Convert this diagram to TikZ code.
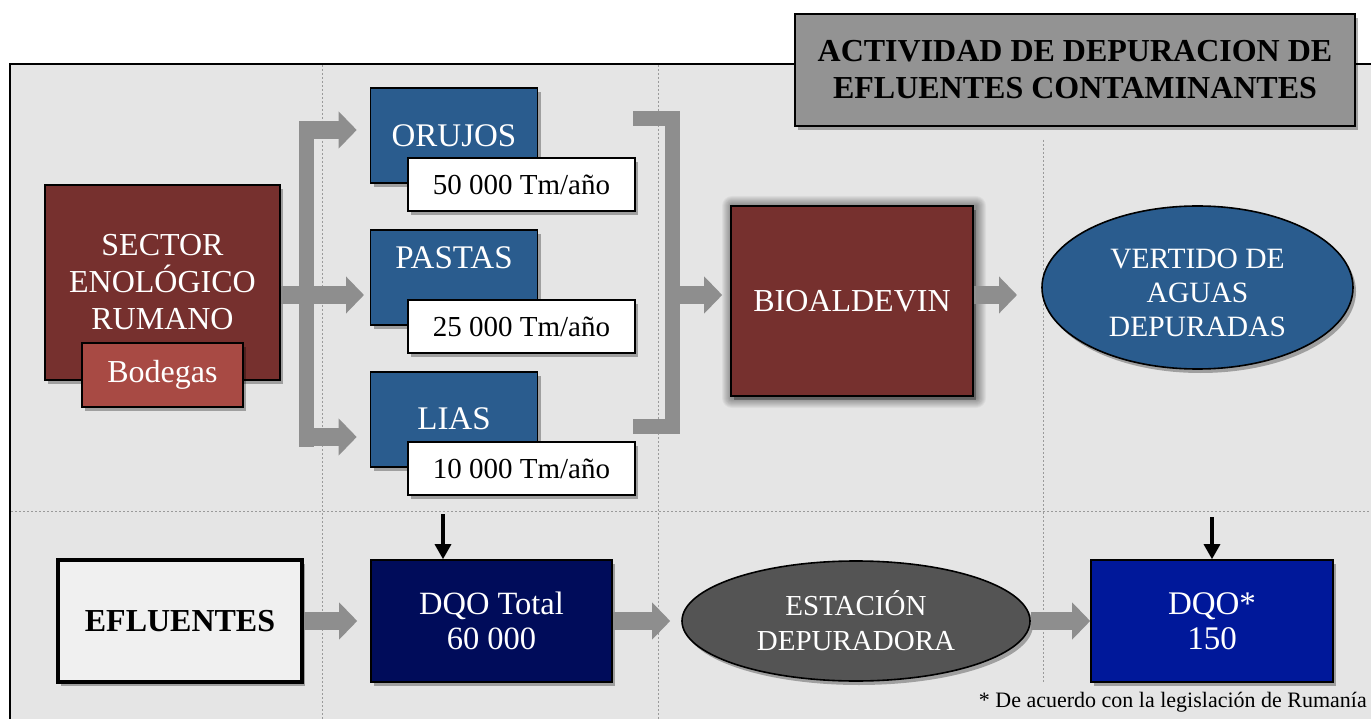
\documentclass[tikz,border=0pt]{standalone}
\usepackage{fontspec}
\setmainfont{Liberation Serif}
\usetikzlibrary{arrows.meta,shapes.geometric,shadows,calc}
\definecolor{bgc}{HTML}{E5E5E5}
\definecolor{darkred}{HTML}{76302E}
\definecolor{bodred}{HTML}{A84A44}
\definecolor{midblue}{HTML}{2A5C8E}
\definecolor{arrowgray}{HTML}{8E8E8E}
\definecolor{navyc}{HTML}{000C5A}
\definecolor{dqoblue}{HTML}{00189A}
\definecolor{estgray}{HTML}{545454}
\definecolor{titlegray}{HTML}{939393}
\definecolor{dashgray}{HTML}{9A9A9A}
\begin{document}
\begin{tikzpicture}[x=1pt,y=-1pt,
  shd/.style={drop shadow={shadow xshift=3pt,shadow yshift=-4pt,opacity=0.3,fill=black}},
  base/.style={draw=black,line width=1.6pt,inner sep=0pt,align=center,
    font=\fontsize{32}{37}\selectfont,shd},
  redbox/.style={base,fill=darkred,text=white},
  bodbox/.style={base,fill=bodred,text=white},
  bluebox/.style={base,fill=midblue},
  valbox/.style={base,fill=white,text=black,font=\fontsize{29}{35}\selectfont},
  boxtext/.style={text=white,font=\fontsize{33}{37}\selectfont,inner sep=0pt},
  garrow/.style={draw=arrowgray,line width=18pt,-{Triangle[length=18pt,width=36pt]}},
  gbar/.style={draw=arrowgray,line width=15pt,miter limit=10},
  karrow/.style={draw=black,line width=3.2pt,-{Triangle[length=15pt,width=16pt]}},
  dline/.style={draw=dashgray,line width=0.9pt,dash pattern=on 2pt off 2pt}]
\useasboundingbox (0,0) rectangle (1371,719);
\clip (0,0) rectangle (1371,719);
\fill[white] (0,0) rectangle (1371,719);
% frame
\draw[fill=bgc,line width=2pt] (10,64) rectangle (1400,760);
% dashed guide lines
\draw[dline] (322,65) -- (322,719);
\draw[dline] (658,65) -- (658,719);
\draw[dline] (1043,140) -- (1043,683);
\draw[dline] (11,511) -- (1371,511);
% title
\node[base,fill=titlegray,text=black,minimum width=560,minimum height=112,
  font=\fontsize{32}{37}\selectfont\bfseries] (title) at (1075,70)
  {ACTIVIDAD DE DEPURACION DE\\EFLUENTES CONTAMINANTES};
% sector
\node[redbox,minimum width=235,minimum height=195] (sector) at (162.5,282.5)
  {SECTOR\\ENOLÓGICO\\RUMANO};
\node[bodbox,minimum width=161,minimum height=64] (bodegas) at (162.5,375) {Bodegas};
% products
\node[bluebox,minimum width=167,minimum height=95] (orujos) at (454,135.5) {};
\node[boxtext] (orujosT) at (454,136) {ORUJOS};
\node[valbox,minimum width=227,minimum height=53] (orujosV) at (521.5,184.5) {50 000 Tm/año};
\node[bluebox,minimum width=167,minimum height=95] (pastas) at (454,277.5) {};
\node[boxtext] (pastasT) at (454,258) {PASTAS};
\node[valbox,minimum width=227,minimum height=53] (pastasV) at (521.5,326.5) {25 000 Tm/año};
\node[bluebox,minimum width=167,minimum height=95] (lias) at (454,419.5) {};
\node[boxtext] (liasT) at (454,419) {LIAS};
\node[valbox,minimum width=227,minimum height=53] (liasV) at (521.5,468.5) {10 000 Tm/año};
% bioaldevin glow
\foreach \d in {1,2,...,10}
  \fill[black,opacity=0.045,rounded corners=\d pt] (731-\d+1,206-\d) rectangle (973+\d+3,396+\d+2);
\node[redbox,minimum width=242,minimum height=190,drop shadow={opacity=0}] (bio) at (852,301) {BIOALDEVIN};
% vertido
\node[base,ellipse,fill=midblue,minimum width=311,minimum height=163] (vert) at (1197.5,287.5) {};
\node[text=white,align=center,inner sep=0pt,font=\fontsize{29.5}{34}\selectfont] (vertT) at (1197.5,293)
  {VERTIDO DE\\AGUAS\\DEPURADAS};
% bottom row
\node[base,fill=white!94!black,line width=4pt,minimum width=244,minimum height=122,
  font=\fontsize{32}{37}\selectfont\bfseries] (efl) at (180,621) {EFLUENTES};
\node[base,fill=navyc,text=white,minimum width=241,minimum height=122,
  font=\fontsize{32.5}{35}\selectfont] (dqot) at (491.5,621) {DQO Total\\60 000};
\node[base,ellipse,fill=estgray,text=white,minimum width=348,minimum height=120,
  font=\fontsize{29}{35}\selectfont] (est) at (856,621) {ESTACIÓN\\DEPURADORA};
\node[base,fill=dqoblue,text=white,minimum width=242,minimum height=122,
  font=\fontsize{33}{35}\selectfont] (dqos) at (1212,621) {DQO*\\150};
\node[anchor=base east,inner sep=0pt,font=\fontsize{22}{26}\selectfont] (note) at (1367,707)
  {* De acuerdo con la legislación de Rumanía};
% left fork
\coordinate (forkTop) at (306.5,121);
\coordinate (forkBot) at (306.5,447);
\draw[gbar] (forkTop) -- (forkBot);
\coordinate (aS) at (299,130);
\coordinate (aT) at ($(orujos.west |- aS)+(-13,0)$);
\draw[garrow] (aS) -- (aT);
\coordinate (bS) at ($(sector.east)+(0,12.5)$);
\coordinate (bT) at (364,295);
\draw[garrow] (bS) -- (bT);
\coordinate (cS) at (299,437);
\coordinate (cT) at ($(lias.west |- cS)+(-13,0)$);
\draw[garrow] (cS) -- (cT);
% right bracket
\coordinate (r1) at (633,118.5);
\coordinate (r2) at (672.5,118.5);
\coordinate (r3) at (672.5,426);
\coordinate (r4) at (633,426);
\draw[gbar] (r1) -- (r2) -- (r3) -- (r4);
\coordinate (dS) at (672.5,295);
\coordinate (dT) at ($(bio.west |- dS)+(-8,0)$);
\draw[garrow] (dS) -- (dT);
\coordinate (eS) at (bio.east |- dS);
\coordinate (eT) at (1017,295);
\draw[garrow] (eS) -- (eT);
% bottom arrows
\draw[garrow] (efl.east) -- ($(dqot.west)+(-13,0)$);
\draw[garrow] (dqot.east) -- ($(est.west)+(-11,0)$);
\draw[garrow] (est.east) -- (dqos.west);
\coordinate (k1) at (443,514);
\draw[karrow] (k1) -- (dqot.north -| k1);
\coordinate (k2) at (dqos.north |- 0,517);
\draw[karrow] (k2) -- (dqos.north);
\end{tikzpicture}
\end{document}
